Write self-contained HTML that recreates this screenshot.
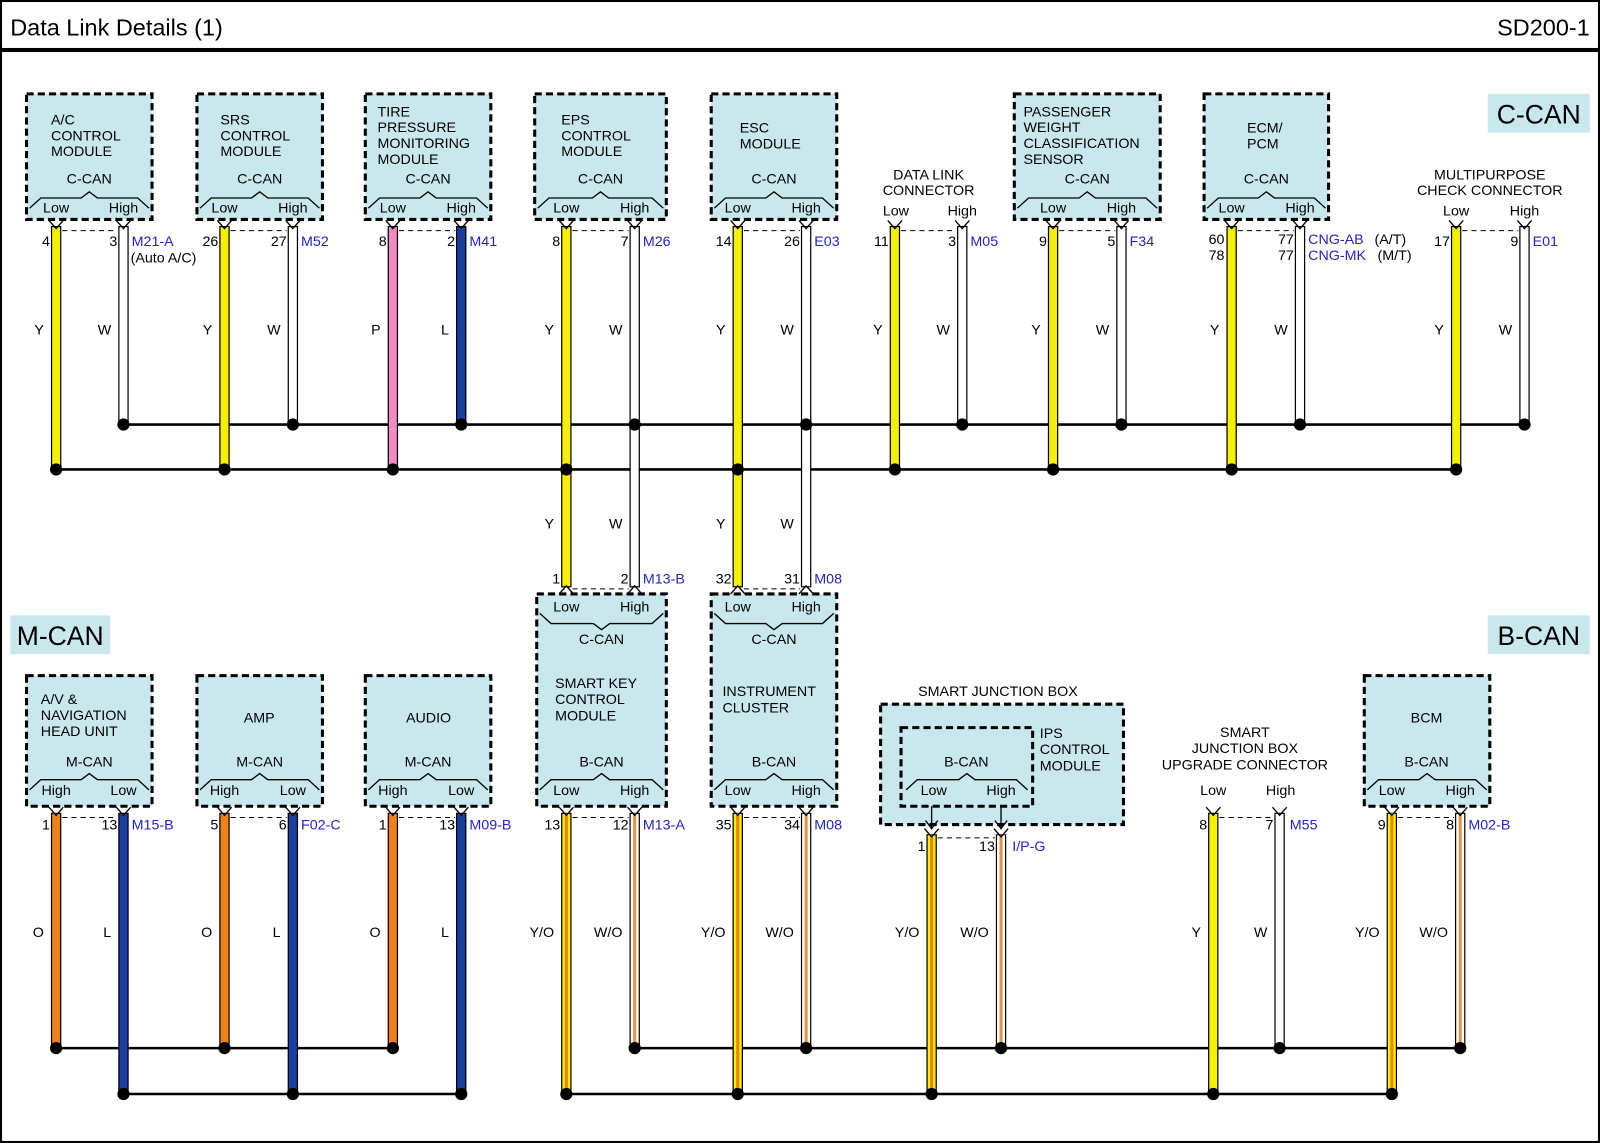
<!DOCTYPE html>
<html><head><meta charset="utf-8"><style>
html,body{margin:0;padding:0;background:#fff}
svg{display:block}
text{font-family:"Liberation Sans",Arial,sans-serif}
</style></head><body>
<svg id="s" width="1600" height="1143" viewBox="0 0 1568 1120" preserveAspectRatio="none" xmlns="http://www.w3.org/2000/svg">
<rect x="1" y="1" width="1566" height="1118" fill="#fff" stroke="#000" stroke-width="2"/>
<text x="10" y="35" font-size="23">Data Link Details (1)</text>
<text x="1558" y="35" font-size="23" text-anchor="end">SD200-1</text>
<rect x="0" y="47" width="1568" height="4" fill="#000"/>
<rect x="1458" y="92" width="100" height="38" fill="#c8e8ee"/>
<text x="1508" y="121" font-size="26" text-anchor="middle">C-CAN</text>
<rect x="10" y="603" width="98" height="38" fill="#c8e8ee"/>
<text x="59" y="632" font-size="26" text-anchor="middle">M-CAN</text>
<rect x="1458" y="603" width="100" height="38" fill="#c8e8ee"/>
<text x="1508" y="632" font-size="26" text-anchor="middle">B-CAN</text>
<g id="g"></g>
</svg>
<script>
var o='';
function T(x,y,t,a,c,fs){o+='<text x="'+x+'" y="'+y+'" font-size="'+(fs||14)+'" text-anchor="'+(a||'start')+'" fill="'+(c||'#000')+'">'+t+'</text>';}
function box(x1,y1,x2,y2){o+='<rect x="'+x1+'" y="'+y1+'" width="'+(x2-x1)+'" height="'+(y2-y1)+'" fill="#c8e8ee" stroke="#000" stroke-width="3" stroke-dasharray="7,4"/>';}
function ibox(x1,y1,x2,y2){o+='<rect x="'+x1+'" y="'+y1+'" width="'+(x2-x1)+'" height="'+(y2-y1)+'" fill="none" stroke="#000" stroke-width="3" stroke-dasharray="7,4"/>';}
function brace(x1,x2,y,up){var c=(x1+x2)/2;
var e=up?y-10:y+10, p=up?y+6:y-6;
o+='<path d="M'+(x1+3)+','+e+' L'+(x1+14)+','+y+' L'+(c-8)+','+y+' L'+c+','+p+' L'+(c+8)+','+y+' L'+(x2-14)+','+y+' L'+(x2-3)+','+e+'" fill="none" stroke="#000" stroke-width="1.3"/>';}
function wire(x,y1,y2,fill,stripe){o+='<rect x="'+(x-4.5)+'" y="'+y1+'" width="9" height="'+(y2-y1)+'" fill="'+fill+'" stroke="#000" stroke-width="1.2"/>';
if(stripe)o+='<rect x="'+(x-1.5)+'" y="'+y1+'" width="3" height="'+(y2-y1)+'" fill="'+stripe+'"/>';}
function chev(x,y,down){var d=down?1:-1;o+='<path d="M'+(x-7)+','+y+' L'+x+','+(y+8*d)+' L'+(x+7)+','+y+'" fill="none" stroke="#000" stroke-width="1.3"/>';}
function dash(x1,x2,y){o+='<line x1="'+(x1+6)+'" y1="'+y+'" x2="'+(x2-6)+'" y2="'+y+'" stroke="#000" stroke-width="1" stroke-dasharray="5,4"/>';}
function dot(x,y){o+='<circle cx="'+x+'" cy="'+y+'" r="6" fill="#000"/>';}
function line(x1,x2,y){o+='<line x1="'+x1+'" y1="'+y+'" x2="'+x2+'" y2="'+y+'" stroke="#000" stroke-width="2.5"/>';}
var B='#2323c8',Yc='#f5f000',Wc='#fff',Pc='#f08cc0',Lc='#1a3fa0',Oc='#f08018',OS='#e89040';

line(121,1494,416);line(55,1427,460);
line(55,385,1027);line(121,452,1072);
line(622,1431,1027);line(555,1364,1072);

var tm=[
 [26,149,55,121,['A/C','CONTROL','MODULE'],50,122,'4','3','M21-A',Yc,Wc,'Y','W'],
 [193,316,220,287,['SRS','CONTROL','MODULE'],216,122,'26','27','M52',Yc,Wc,'Y','W'],
 [358,481,385,452,['TIRE','PRESSURE','MONITORING','MODULE'],370,114,'8','2','M41',Pc,Lc,'P','L'],
 [524,653,555,622,['EPS','CONTROL','MODULE'],550,122,'8','7','M26',Yc,Wc,'Y','W'],
 [697,820,723,790,['ESC','MODULE'],725,130,'14','26','E03',Yc,Wc,'Y','W'],
 [994,1137,1032,1099,['PASSENGER','WEIGHT','CLASSIFICATION','SENSOR'],1003,114,'9','5','F34',Yc,Wc,'Y','W'],
 [1180,1302,1207,1274,['ECM/','PCM'],1222,130,'','','',Yc,Wc,'Y','W']
];
tm.forEach(function(m){
 box(m[0],92,m[1],215);
 m[4].forEach(function(t,i){T(m[5],m[6]+i*15.5,t);});
 T((m[0]+m[1])/2,180,'C-CAN','middle');brace(m[0],m[1],194,false);
 T(m[2],208,'Low','middle');T(m[3],208,'High','middle');
});
function tw(lx,hx,lp,hp,lab,lc,hc,ll,hl,lend,hend){
 wire(lx,222,lend,lc);wire(hx,222,hend,hc);chev(lx,216,true);chev(hx,216,true);dash(lx,hx,226);
 if(lp)T(lx-6,241,lp,'end');if(hp)T(hx-6,241,hp,'end');if(lab)T(hx+8,241,lab,'start',B);
 T(lx-12,328,ll,'end');T(hx-12,328,hl,'end');dot(lx,lend);dot(hx,hend);
}
tm.forEach(function(m){
 if(m[2]==555||m[2]==723){
  wire(m[2],222,575,m[10]);wire(m[3],222,575,m[11]);chev(m[2],216,true);chev(m[3],216,true);dash(m[2],m[3],226);
  T(m[2]-6,241,m[7],'end');T(m[3]-6,241,m[8],'end');T(m[3]+8,241,m[9],'start',B);
  T(m[2]-12,328,'Y','end');T(m[3]-12,328,'W','end');T(m[2]-12,518,'Y','end');T(m[3]-12,518,'W','end');
  dot(m[2],460);dot(m[3],416);
 } else tw(m[2],m[3],m[7],m[8],m[9],m[10],m[11],m[12],m[13],460,416);
});
T(128,257,'(Auto A/C)');
T(1200,239,'60','end');T(1200,255,'78','end');T(1268,239,'77','end');T(1268,255,'77','end');
T(1282,239,'CNG-AB','start',B);T(1347,239,'(A/T)');T(1282,255,'CNG-MK','start',B);T(1350,255,'(M/T)');
T(910,176,'DATA LINK','middle');T(910,191,'CONNECTOR','middle');T(878,211,'Low','middle');T(943,211,'High','middle');
tw(877,943,'11','3','M05',Yc,Wc,'Y','W',460,416);
T(1460,176,'MULTIPURPOSE','middle');T(1460,191,'CHECK CONNECTOR','middle');T(1427,211,'Low','middle');T(1494,211,'High','middle');
tw(1427,1494,'17','9','E01',Yc,Wc,'Y','W',460,416);

[[526,653,555,622,['SMART KEY','CONTROL','MODULE'],544,674,'1','2','M13-B','13','12','M13-A'],
 [697,820,723,790,['INSTRUMENT','CLUSTER'],708,682,'32','31','M08','35','34','M08']].forEach(function(m){
 box(m[0],582,m[1],790);
 T(m[2],599,'Low','middle');T(m[3],599,'High','middle');brace(m[0],m[1],611,true);
 T((m[0]+m[1])/2,631,'C-CAN','middle');
 m[4].forEach(function(t,i){T(m[5],m[6]+i*16,t);});
 T((m[0]+m[1])/2,751,'B-CAN','middle');brace(m[0],m[1],764,false);
 T(m[2],779,'Low','middle');T(m[3],779,'High','middle');
 chev(m[2],582,false);chev(m[3],582,false);dash(m[2],m[3],577);
 T(m[2]-6,572,m[7],'end');T(m[3]-6,572,m[8],'end');T(m[3]+8,572,m[9],'start',B);
 wire(m[2],797,1072,Yc,Oc);wire(m[3],797,1027,Wc,OS);chev(m[2],791,true);chev(m[3],791,true);dash(m[2],m[3],801);
 T(m[2]-6,813,m[10],'end');T(m[3]-6,813,m[11],'end');T(m[3]+8,813,m[12],'start',B);
 T(m[2]-12,918,'Y/O','end');T(m[3]-12,918,'W/O','end');dot(m[2],1072);dot(m[3],1027);
});

[[26,149,55,121,['A/V &amp;','NAVIGATION','HEAD UNIT'],40,690,'1','13','M15-B'],
 [193,316,220,287,['AMP'],254,708,'5','6','F02-C'],
 [358,481,385,452,['AUDIO'],420,708,'1','13','M09-B']].forEach(function(m){
 box(m[0],662,m[1],790);
 m[4].forEach(function(t,i){T(m[5],m[6]+i*15.5,t,m[4].length==1?'middle':'start');});
 T((m[0]+m[1])/2,751,'M-CAN','middle');brace(m[0],m[1],764,false);
 T(m[2],779,'High','middle');T(m[3],779,'Low','middle');
 wire(m[2],797,1027,Oc);wire(m[3],797,1072,Lc);chev(m[2],791,true);chev(m[3],791,true);dash(m[2],m[3],801);
 T(m[2]-6,813,m[7],'end');T(m[3]-6,813,m[8],'end');T(m[3]+8,813,m[9],'start',B);
 T(m[2]-12,918,'O','end');T(m[3]-12,918,'L','end');dot(m[2],1027);dot(m[3],1072);
});

T(978,682,'SMART JUNCTION BOX','middle');
box(863,690,1101,808);ibox(883,713,1012,790);
T(1019,723,'IPS');T(1019,739,'CONTROL');T(1019,755,'MODULE');
T(947,751,'B-CAN','middle');brace(885,1010,764,false);T(915,779,'Low','middle');T(981,779,'High','middle');
[913,981].forEach(function(x){o+='<line x1="'+x+'" y1="790" x2="'+x+'" y2="812" stroke="#000" stroke-width="1.3"/>';o+='<path d="M'+(x-6)+',804 L'+x+',812 L'+(x+6)+',804" fill="none" stroke="#000" stroke-width="1.3"/>';});
wire(913,818,1072,Yc,Oc);wire(981,818,1027,Wc,OS);chev(913,812,true);chev(981,812,true);dash(913,981,821);
T(907,834,'1','end');T(975,834,'13','end');T(992,834,'I/P-G','start',B);
T(901,918,'Y/O','end');T(969,918,'W/O','end');dot(913,1072);dot(981,1027);

T(1220,722,'SMART','middle');T(1220,738,'JUNCTION BOX','middle');T(1220,754,'UPGRADE CONNECTOR','middle');
T(1189,779,'Low','middle');T(1255,779,'High','middle');
wire(1189,797,1072,Yc);wire(1254,797,1027,Wc);chev(1189,791,true);chev(1254,791,true);dash(1189,1254,801);
T(1183,813,'8','end');T(1248,813,'7','end');T(1264,813,'M55','start',B);
T(1177,918,'Y','end');T(1242,918,'W','end');dot(1189,1072);dot(1254,1027);

box(1337,662,1460,790);T(1398,708,'BCM','middle');T(1398,751,'B-CAN','middle');brace(1337,1460,764,false);
T(1364,779,'Low','middle');T(1431,779,'High','middle');
wire(1364,797,1072,Yc,Oc);wire(1431,797,1027,Wc,OS);chev(1364,791,true);chev(1431,791,true);dash(1364,1431,801);
T(1358,813,'9','end');T(1425,813,'8','end');T(1439,813,'M02-B','start',B);
T(1352,918,'Y/O','end');T(1419,918,'W/O','end');dot(1364,1072);dot(1431,1027);

document.getElementById('g').innerHTML=o;
</script>
</body></html>
